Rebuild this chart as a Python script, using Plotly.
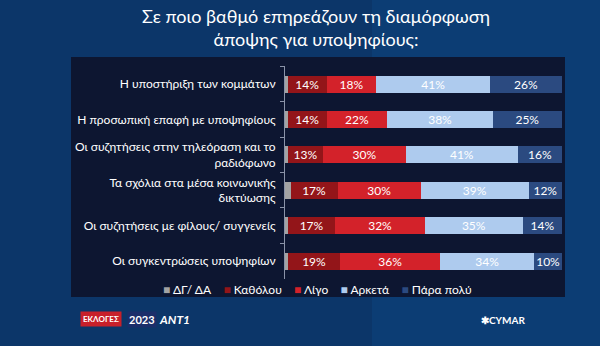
import plotly.graph_objects as go

categories = [
    "Η υποστήριξη των κομμάτων",
    "Η προσωπική επαφή με υποψηφίους",
    "Οι συζητήσεις στην τηλεόραση και το<br>ραδιόφωνο",
    "Τα σχόλια στα μέσα κοινωνικής<br>δικτύωσης",
    "Οι συζητήσεις με φίλους/ συγγενείς",
    "Οι συγκεντρώσεις υποψηφίων",
]
series_names = ["ΔΓ/ ΔΑ", "Καθόλου", "Λίγο", "Αρκετά", "Πάρα πολύ"]
dk = [1, 1, 1, 2, 1, 1]
katholou = [14, 14, 13, 17, 17, 19]
ligo = [18, 22, 30, 30, 32, 36]
arketa = [41, 38, 41, 39, 35, 34]
para_poly = [26, 25, 16, 12, 14, 10]
series_values = [dk, katholou, ligo, arketa, para_poly]
colors = ["#a3a3a3", "#931519", "#d3222a", "#aecbee", "#2b4a80"]

fig = go.Figure()
for name, vals, col in zip(series_names, series_values, colors):
    show_text = name != "ΔΓ/ ΔΑ"
    fig.add_trace(go.Bar(
        y=categories, x=vals, name=name, orientation="h",
        marker=dict(color=col, line=dict(width=0)),
        text=[f"{v}%" for v in vals] if show_text else None,
        textposition="inside" if show_text else "none",
        insidetextanchor="middle", textangle=0, constraintext="none",
        textfont=dict(color="white", size=12, family="Lato"),
        hoverinfo="skip", showlegend=False,
    ))

W, H = 600, 346
legend_text = "&nbsp;&nbsp;&nbsp;&nbsp;".join(
    f'<span style="color:{c}">■</span> {n}' for n, c in zip(series_names, colors)
)

fig.update_layout(
    width=W, height=H, margin=dict(l=0, r=0, t=0, b=0),
    barmode="stack", barnorm="percent", bargap=0.52,
    paper_bgcolor="#0c3669", plot_bgcolor="rgba(0,0,0,0)",
    font=dict(family="Lato", color="white"),
    showlegend=False,
    xaxis=dict(domain=[285 / W, 562 / W], range=[0, 100], showgrid=False, zeroline=False,
               showticklabels=False, showline=False, fixedrange=True),
    yaxis=dict(domain=[1 - 278.7 / H, 1 - 66.3 / H], autorange="reversed", showgrid=False,
               showline=True, linecolor="#8a93a8", linewidth=1, ticks="outside",
               tickson="boundaries", ticklen=4, tickcolor="#8a93a8",
               tickfont=dict(size=12, color="white", family="Lato"), ticklabelstandoff=6,
               fixedrange=True),
    shapes=[
        dict(type="rect", xref="paper", yref="paper", x0=0.62, x1=1, y0=0, y1=1,
             fillcolor="#0e4a8a", opacity=0.35, line=dict(width=0), layer="below"),
        dict(type="rect", xref="paper", yref="paper", x0=71 / W, x1=565 / W,
             y0=1 - 297 / H, y1=1 - 57 / H, fillcolor="#0d1631", line=dict(width=0), layer="below"),
    ],
    annotations=[
        dict(text="Σε ποιο βαθμό επηρεάζουν τη διαμόρφωση<br>άποψης για υποψηφίους:",
             xref="paper", yref="paper", x=316 / W, y=1 - 28 / H, showarrow=False,
             font=dict(size=18, color="white", family="Lato"), align="center",
             xanchor="center", yanchor="middle"),
        dict(text=legend_text, xref="paper", yref="paper", x=317 / W, y=1 - 289 / H,
             showarrow=False, font=dict(size=12, color="white", family="Lato"),
             xanchor="center", yanchor="middle"),
        dict(text="<b>ΕΚΛΟΓΕΣ</b>", xref="paper", yref="paper", x=101 / W, y=1 - 319 / H,
             showarrow=False, font=dict(size=8, color="white"), bgcolor="#c8202a",
             xanchor="center", yanchor="middle", borderpad=2),
        dict(text="<b>2023</b>", xref="paper", yref="paper", x=142 / W, y=1 - 319 / H,
             showarrow=False, font=dict(size=11, color="white"), bgcolor="#1b2e6a",
             xanchor="center", yanchor="middle", borderpad=1),
        dict(text="<b><i>ANT1</i></b>", xref="paper", yref="paper", x=174 / W, y=1 - 319 / H,
             showarrow=False, font=dict(size=12, color="white"),
             xanchor="center", yanchor="middle"),
        dict(text="<b>✱CYMAR</b>", xref="paper", yref="paper", x=503 / W, y=1 - 320 / H,
             showarrow=False, font=dict(size=10, color="white"),
             xanchor="center", yanchor="middle"),
    ],
)

fig.write_html("out.html")
